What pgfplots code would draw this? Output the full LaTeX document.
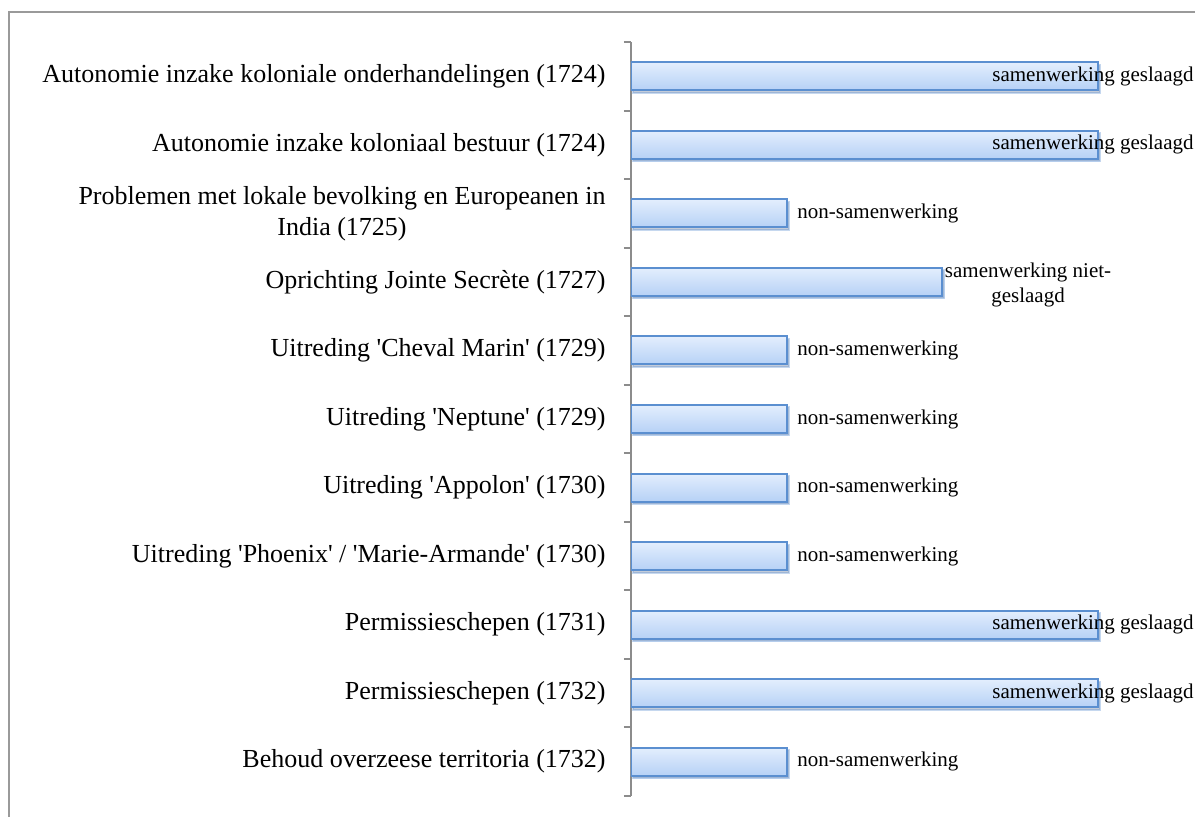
\documentclass[border=0pt]{standalone}
\usepackage{fontspec}
\setmainfont{Liberation Serif}
\usepackage{pgfplots}
\pgfplotsset{compat=1.18}
\usetikzlibrary{shadows}

\definecolor{barline}{HTML}{5B8FD0}
\definecolor{bartop}{HTML}{E3EEFD}
\definecolor{barbot}{HTML}{B6D1F6}
\definecolor{axgray}{HTML}{8C8C8C}
\definecolor{framegray}{HTML}{9A9A9A}

% 1 = non-samenwerking, 2 = samenwerking niet-geslaagd, 3 = samenwerking geslaagd
\pgfplotstableread{
y val
0 3
1 3
2 1
3 2
4 1
5 1
6 1
7 1
8 3
9 3
10 1
}\bars

\pgfplotstableread{
x y label
2.967 0 {samenwerking geslaagd}
2.967 1 {samenwerking geslaagd}
1.586 2 {non-samenwerking}
2.55 2.86 {samenwerking niet-}
2.55 3.23 {geslaagd}
1.586 4 {non-samenwerking}
1.586 5 {non-samenwerking}
1.586 6 {non-samenwerking}
1.586 7 {non-samenwerking}
2.967 8 {samenwerking geslaagd}
2.967 9 {samenwerking geslaagd}
1.586 10 {non-samenwerking}
}\labels

\newcommand{\q}{\textquotesingle}

\begin{document}
\begin{tikzpicture}
\begin{axis}[
    scale only axis, width=272.5pt, height=377pt,
    xmin=0, xmax=3.5, ymin=-0.5, ymax=10.5, y dir=reverse,
    axis x line=none, axis y line*=left,
    axis line style={axgray, line width=1pt},
    ytick={0,...,10},
    yticklabels={
        {Autonomie inzake koloniale onderhandelingen (1724)},
        {Autonomie inzake koloniaal bestuur (1724)},
        {Problemen met lokale bevolking en Europeanen in\\India (1725)},
        {Oprichting Jointe Secrète (1727)},
        {Uitreding \q Cheval Marin\q{} (1729)},
        {Uitreding \q Neptune\q{} (1729)},
        {Uitreding \q Appolon\q{} (1730)},
        {Uitreding \q Phoenix\q{} / \q Marie-Armande\q{} (1730)},
        {Permissieschepen (1731)},
        {Permissieschepen (1732)},
        {Behoud overzeese territoria (1732)}},
    yticklabel style={font=\fontsize{13}{15.5}\selectfont, align=center, inner sep=0pt, xshift=-12.5pt},
    major tick length=0pt,
    extra y ticks={-0.5,0.5,...,10.5},
    extra y tick labels={},
    extra y tick style={major tick length=3.5pt, tick align=outside, tick style={axgray, line width=1pt}},
    mybar/.style={xbar, bar width=14pt, bar shift=0pt, draw=barline, line width=1pt,
        top color=bartop, bottom color=barbot,
        drop shadow={shadow xshift=1pt, shadow yshift=-1.2pt, opacity=0.35, fill=black!60}},
]
% one plot per bar so that each bar gets its own gradient
\pgfplotsinvokeforeach{0,...,10}{
    \addplot[mybar] table[x=val, y=y, restrict y to domain=#1:#1] {\bars};
}
\addplot[draw=none, nodes near coords, point meta=explicit symbolic,
    every node near coord/.style={anchor=center, inner sep=0pt, text=black,
        font=\fontsize{10.5}{12.5}\selectfont}]
    table[x=x, y=y, meta=label] {\labels};
\end{axis}
\draw[framegray, line width=1pt] (-311pt,-40pt) rectangle (330pt,392pt);
\pgfresetboundingbox
\path[use as bounding box] (-315.5pt,-10pt) rectangle (282pt,398pt);
\end{tikzpicture}
\end{document}
